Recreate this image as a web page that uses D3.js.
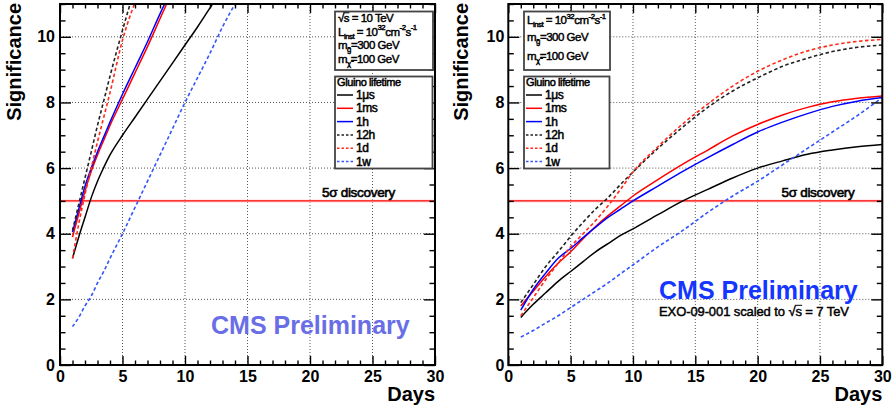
<!DOCTYPE html>
<html><head><meta charset="utf-8">
<script src="https://cdn.jsdelivr.net/npm/d3@7"></script>
<style>
body{margin:0;background:#fff}
svg{display:block}
text{font-family:"Liberation Sans",Arial,Helvetica,sans-serif}
</style>
</head><body>
<svg id="c" width="893" height="408"></svg>
<script>
// ---------------- DATA ----------------
const seriesNames = ["1\u03bcs", "1ms", "1h", "12h", "1d", "1w"];
const xMajorTicks = [0, 5, 10, 15, 20, 25, 30];
const yMajorTicks = [0, 2, 4, 6, 8, 10];

// Left panel: sqrt(s)=10 TeV
const leftDays  = [1, 1.5, 2, 2.5, 3, 3.5, 4, 5, 6, 7, 8, 9, 10, 11, 12, 13, 14];
const left_1us  = [3.25, 3.9, 4.5, 5.1, 5.6, 6.02, 6.4, 7.0, 7.55, 8.1, 8.65, 9.2, 9.75, 10.3, 10.88, 11.45];
const left_1ms  = [3.9, 4.6, 5.3, 5.9, 6.4, 6.85, 7.3, 8.1, 8.9, 9.7, 10.55, 11.4];
const left_1h   = [4.05, 4.75, 5.45, 6.0, 6.5, 6.95, 7.4, 8.25, 9.05, 9.85, 10.7, 11.5];
const left_12h  = [4.1, 4.9, 5.7, 6.5, 7.3, 8.05, 8.8, 10.2, 11.5];
const left_1d   = [3.25, 4.3, 5.2, 6.0, 6.8, 7.55, 8.3, 9.9, 11.05];
const left_1w   = [1.17, 1.45, 1.8, 2.1, 2.5, 2.85, 3.25, 4.0, 4.8, 5.6, 6.4, 7.2, 8.0, 8.75, 9.5, 10.3, 11.0];

// Right panel: EXO-09-001 scaled to sqrt(s)=7 TeV
const rightDays = [1, 2, 3, 4, 5, 6, 7, 8, 9, 10, 12, 14, 16, 18, 20, 22, 24, 26, 28, 30];
const right_1us = [1.45, 1.85, 2.2, 2.55, 2.85, 3.15, 3.45, 3.7, 3.95, 4.15, 4.58, 5.0, 5.35, 5.7, 6.0, 6.22, 6.42, 6.55, 6.65, 6.72];
const right_1ms = [1.8, 2.25, 2.7, 3.1, 3.45, 3.85, 4.22, 4.55, 4.85, 5.15, 5.65, 6.12, 6.55, 6.98, 7.33, 7.62, 7.85, 8.02, 8.13, 8.2];
const right_1h  = [1.67, 2.3, 2.8, 3.25, 3.55, 3.88, 4.2, 4.5, 4.75, 5.0, 5.45, 5.9, 6.32, 6.72, 7.1, 7.4, 7.66, 7.88, 8.04, 8.15];
const right_12h = [1.9, 2.45, 3.0, 3.45, 3.92, 4.35, 4.75, 5.1, 5.5, 5.88, 6.6, 7.25, 7.85, 8.35, 8.75, 9.1, 9.35, 9.55, 9.68, 9.75];
const right_1d  = [1.5, 2.05, 2.6, 3.1, 3.6, 4.0, 4.4, 4.85, 5.35, 5.88, 6.65, 7.35, 7.95, 8.5, 8.95, 9.3, 9.57, 9.75, 9.86, 9.92];
const right_1w  = [0.85, 1.05, 1.28, 1.5, 1.75, 2.0, 2.25, 2.5, 2.78, 3.05, 3.6, 4.1, 4.65, 5.15, 5.6, 6.1, 6.6, 7.1, 7.6, 8.15];

const discoveryLevel = 5;

// ---------------- STYLE ----------------
const seriesColors = ["#000000", "#ff0000", "#0000ff", "#222222", "#ff2a1a", "#3355ff"];
const seriesDashed = [false, false, false, true, true, true];

const svg = d3.select("#c");
const FONT = '"Liberation Sans",Arial,Helvetica,sans-serif';

function richText(g, x, y, segs, size) {
  const t = g.append("text").attr("x", x).attr("y", y)
    .attr("font-size", size).attr("fill", "#000")
    .attr("letter-spacing", -0.5)
    .attr("stroke", "#000").attr("stroke-width", 0.45);
  let off = 0;
  segs.forEach(([s, mode]) => {
    const ts = t.append("tspan").text(s);
    let target = 0, fs = size;
    if (mode === "sub") { target = size * 0.28; fs = size * 0.68; }
    if (mode === "sup") { target = -size * 0.45; fs = size * 0.68; }
    ts.attr("dy", target - off).attr("font-size", fs);
    off = target;
  });
  return t;
}

function sqrtBar(g, textSel, charIdx, y) {
  const n = textSel.node();
  const a = n.getStartPositionOfChar(charIdx);
  const b = n.getEndPositionOfChar(charIdx);
  g.append("line").attr("x1", a.x - 0.5).attr("x2", b.x + 0.3)
    .attr("y1", y).attr("y2", y).attr("stroke", "#000").attr("stroke-width", 1);
}

function drawPanel(p) {
  const g = svg.append("g");
  const x = d3.scaleLinear().domain([0, 30]).range([p.x0, p.x1]);
  const y = d3.scaleLinear().domain([0, 11]).range([365, 4]);
  const [yb, yt] = y.range();

  const clipId = "clip" + p.id;
  svg.append("clipPath").attr("id", clipId).append("rect")
    .attr("x", p.x0).attr("y", yt).attr("width", p.x1 - p.x0).attr("height", yb - yt);

  // grid
  g.append("g").selectAll("line").data(xMajorTicks.slice(1, -1)).join("line")
    .attr("x1", d => x(d)).attr("x2", d => x(d)).attr("y1", yb).attr("y2", yt)
    .attr("stroke", "#555").attr("stroke-width", 1).attr("stroke-dasharray", "1,2");
  g.append("g").selectAll("line").data(yMajorTicks.slice(1)).join("line")
    .attr("x1", p.x0).attr("x2", p.x1).attr("y1", d => y(d)).attr("y2", d => y(d))
    .attr("stroke", "#555").attr("stroke-width", 1).attr("stroke-dasharray", "1,2");

  // 5 sigma line
  g.append("line").attr("x1", p.x0).attr("x2", p.x1)
    .attr("y1", y(discoveryLevel)).attr("y2", y(discoveryLevel))
    .attr("stroke", "#ffdcdc").attr("stroke-width", 3);
  g.append("line").attr("x1", p.x0).attr("x2", p.x1)
    .attr("y1", y(discoveryLevel)).attr("y2", y(discoveryLevel))
    .attr("stroke", "#ff0000").attr("stroke-width", 1.1);
  g.append("text").attr("x", p.discX).attr("y", y(discoveryLevel) - 3.5)
    .attr("font-size", 13.5).attr("fill", "#000").attr("stroke", "#000").attr("stroke-width", 0.6)
    .attr("letter-spacing", -0.3)
    .text("5\u03c3 discovery");

  // curves
  const line = d3.line().x(d => x(d[0])).y(d => y(d[1])).curve(d3.curveMonotoneX);
  const cg = g.append("g").attr("clip-path", `url(#${clipId})`);
  p.series.forEach((vals, i) => {
    const pts = vals.map((v, k) => [p.days[k], v]);
    cg.append("path").attr("d", line(pts)).attr("fill", "none")
      .attr("stroke", seriesColors[i]).attr("stroke-width", seriesDashed[i] ? 1.6 : 1.5)
      .attr("stroke-dasharray", seriesDashed[i] ? "3.5,2.5" : null);
  });

  // axes (ticks inward)
  const xMinor = d3.range(0, 31, 1).filter(d => d % 5 !== 0);
  const yMinor = d3.range(0, 11.01, 0.5).filter(d => d % 2 !== 0);
  const styleAxis = (sel) => {
    sel.select(".domain").remove();
    sel.selectAll("line").attr("stroke", "#000").attr("stroke-width", 1.4);
    sel.selectAll("text").attr("font-family", FONT).attr("font-weight", "bold")
      .attr("font-size", 16).attr("fill", "#000");
  };
  g.append("g").attr("transform", `translate(0,${yb})`)
    .call(d3.axisBottom(x).tickValues(xMajorTicks).tickSize(-9).tickPadding(5.5).tickFormat(d3.format("d")))
    .call(styleAxis);
  g.append("g").attr("transform", `translate(0,${yb})`)
    .call(d3.axisBottom(x).tickValues(xMinor).tickSize(-4.5).tickFormat(""))
    .call(styleAxis);
  g.append("g").attr("transform", `translate(0,${yt})`)
    .call(d3.axisTop(x).tickValues(xMajorTicks).tickSize(-9).tickFormat(""))
    .call(styleAxis);
  g.append("g").attr("transform", `translate(0,${yt})`)
    .call(d3.axisTop(x).tickValues(xMinor).tickSize(-4.5).tickFormat(""))
    .call(styleAxis);
  g.append("g").attr("transform", `translate(${p.x0},0)`)
    .call(d3.axisLeft(y).tickValues(yMajorTicks).tickSize(-11).tickPadding(p.yPad).tickFormat(d3.format("d")))
    .call(styleAxis);
  g.append("g").attr("transform", `translate(${p.x0},0)`)
    .call(d3.axisLeft(y).tickValues(yMinor).tickSize(-5.5).tickFormat(""))
    .call(styleAxis);
  g.append("g").attr("transform", `translate(${p.x1},0)`)
    .call(d3.axisRight(y).tickValues(yMajorTicks).tickSize(-11).tickFormat(""))
    .call(styleAxis);
  g.append("g").attr("transform", `translate(${p.x1},0)`)
    .call(d3.axisRight(y).tickValues(yMinor).tickSize(-5.5).tickFormat(""))
    .call(styleAxis);

  // frame
  g.append("rect").attr("x", p.x0).attr("y", yt).attr("width", p.x1 - p.x0).attr("height", yb - yt)
    .attr("fill", "none").attr("stroke", "#000").attr("stroke-width", 2);

  // axis titles
  g.append("text").attr("transform", `translate(${p.yTitleX},${yt - 1}) rotate(-90)`)
    .attr("text-anchor", "end").attr("font-size", 20).attr("font-weight", "bold")
    .text("Significance");
  g.append("text").attr("x", p.x1).attr("y", 401).attr("text-anchor", "end")
    .attr("font-size", 20).attr("font-weight", "bold").text("Days");

  // info box
  const ib = p.info;
  g.append("rect").attr("x", ib.x).attr("y", 11.5).attr("width", ib.w).attr("height", 58.5)
    .attr("fill", "#fff").attr("stroke", "#444").attr("stroke-width", 1.8);
  ib.lines.forEach(L => {
    const t = richText(g, ib.x + 3, L.y, L.segs, 11.5);
    if (L.sqrt) sqrtBar(g, t, 1, L.y - 9.2);
  });

  // legend box
  const lb = p.legend;
  g.append("rect").attr("x", lb.x).attr("y", 76.5).attr("width", lb.w).attr("height", 92)
    .attr("fill", "#fff").attr("stroke", "#444").attr("stroke-width", 1.8);
  g.append("text").attr("x", lb.x + 2).attr("y", 86).attr("font-size", 11)
    .attr("letter-spacing", -0.4).attr("stroke", "#000").attr("stroke-width", 0.5)
    .text("Gluino lifetime");
  seriesNames.forEach((nm, i) => {
    const by = 99 + i * 13.3;
    g.append("line").attr("x1", lb.x + 2).attr("x2", lb.x + 18)
      .attr("y1", by - 4).attr("y2", by - 4)
      .attr("stroke", seriesColors[i]).attr("stroke-width", 1.5)
      .attr("stroke-dasharray", seriesDashed[i] ? "2.5,2" : null);
    g.append("text").attr("x", lb.x + 21).attr("y", by).attr("font-size", 12)
      .attr("letter-spacing", -0.4).attr("stroke", "#000").attr("stroke-width", 0.5)
      .text(nm);
  });

  // CMS label
  g.append("text").attr("x", p.cms.x).attr("y", p.cms.y).attr("font-size", 25)
    .attr("font-weight", "bold").attr("fill", p.cms.color).text("CMS Preliminary");
  if (p.exo) {
    const t = g.append("text").attr("x", p.exo.x).attr("y", p.exo.y).attr("font-size", 13)
      .attr("stroke", "#000").attr("stroke-width", 0.45).attr("letter-spacing", -0.1)
      .text("EXO-09-001 scaled to \u221as = 7 TeV");
    const idx = "EXO-09-001 scaled to \u221as".length - 1;
    sqrtBar(g, t, idx, p.exo.y - 10.4);
  }
}

const linst = [["L", ""], ["inst", "sub"], [" = 10", ""], ["32", "sup"], ["cm", ""], ["-2", "sup"], ["s", ""], ["-1", "sup"]];
const mglu = [["m", ""], ["g\u0303", "sub"], ["=300 GeV", ""]];
const mchi = [["m", ""], ["\u03c7\u0303", "sub"], ["=100 GeV", ""]];

drawPanel({
  id: "L", x0: 60, x1: 435, days: leftDays,
  series: [left_1us, left_1ms, left_1h, left_12h, left_1d, left_1w],
  yPad: 5, yTitleX: 20.5, discX: 322,
  info: { x: 335, w: 98, lines: [
    { y: 22, segs: [["\u221as = 10 TeV", ""]], sqrt: true },
    { y: 35.5, segs: linst },
    { y: 49, segs: mglu },
    { y: 63, segs: mchi }
  ]},
  legend: { x: 335, w: 97.5 },
  cms: { x: 211, y: 333.5, color: "#6a6ee6" }
});

drawPanel({
  id: "R", x0: 508.3, x1: 882.3, days: rightDays,
  series: [right_1us, right_1ms, right_1h, right_12h, right_1d, right_1w],
  yPad: 4, yTitleX: 468, discX: 781.5,
  info: { x: 524, w: 86, lines: [
    { y: 24, segs: linst },
    { y: 40.5, segs: mglu },
    { y: 60, segs: mchi }
  ]},
  legend: { x: 524, w: 85.5 },
  cms: { x: 659, y: 298.5, color: "#1436ff" },
  exo: { x: 659, y: 315.7 }
});
</script>
</body></html>
